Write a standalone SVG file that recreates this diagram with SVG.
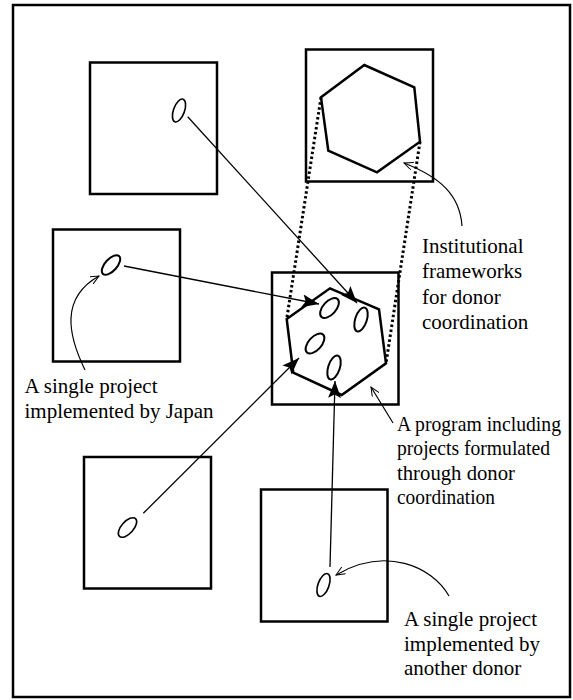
<svg xmlns="http://www.w3.org/2000/svg" width="573" height="700" viewBox="0 0 573 700">
<style>
.box{fill:none;stroke:#000;stroke-width:2.5}
.hex{fill:none;stroke:#000;stroke-width:2.5;stroke-linejoin:miter}
.ell{fill:none;stroke:#000;stroke-width:2}
.ellt{fill:none;stroke:#000;stroke-width:1.6}
.dot{fill:none;stroke:#000;stroke-width:3;stroke-dasharray:2.5 2.5}
.con{fill:none;stroke:#000;stroke-width:1.3}
.ann{fill:none;stroke:#000;stroke-width:1.2}
text{font-family:"Liberation Serif","Times New Roman",serif;font-size:21px;fill:#000}
</style>
<defs>
<marker id="big" markerUnits="userSpaceOnUse" markerWidth="20" markerHeight="14" refX="17" refY="6.5" orient="auto">
<path d="M0,0 L17,6.5 L0,13 L3.5,6.5 z" fill="#000"/>
</marker>
<marker id="small" markerUnits="userSpaceOnUse" markerWidth="12" markerHeight="10" refX="9" refY="4" orient="auto">
<path d="M0,0 L9,4 L0,8" fill="none" stroke="#000" stroke-width="1"/>
</marker>
</defs>
<rect x="13" y="5" width="557" height="692" fill="#fff" stroke="#000" stroke-width="2.5"/>

<g id="square-top-left">
<rect class="box" x="90" y="62.5" width="127" height="131.5"/>
<ellipse class="ellt" cx="179" cy="110.5" rx="5.5" ry="12" transform="rotate(20 179 110.5)"/>
</g>
<g id="square-top-right">
<rect class="box" x="306" y="49.5" width="127" height="132"/>
<polygon class="hex" points="321,97.3 364.3,65 414.3,87.3 420,141.7 377,172.3 328.3,150.7"/>
</g>
<g id="square-mid-left">
<rect class="box" x="53" y="229.5" width="127" height="132"/>
<ellipse class="ell" cx="111" cy="265" rx="12" ry="6" transform="rotate(-48 111 265)"/>
</g>
<g id="square-center">
<rect class="box" x="272" y="272.5" width="126.5" height="132"/>
<polygon class="hex" points="286.7,319 330,288.3 379,309.3 386,363.3 341.7,395 293.3,372.7"/>
<ellipse class="ell" cx="329.5" cy="308" rx="12" ry="6.5" transform="rotate(-48 329.5 308)"/>
<ellipse class="ell" cx="361" cy="319.5" rx="5.8" ry="12.5" transform="rotate(18 361 319.5)"/>
<ellipse class="ell" cx="315" cy="343.5" rx="12" ry="6.5" transform="rotate(-48 315 343.5)"/>
<ellipse class="ell" cx="334" cy="367.5" rx="5.8" ry="12.5" transform="rotate(18 334 367.5)"/>
</g>
<g id="square-bottom-left">
<rect class="box" x="84" y="457" width="127" height="131.5"/>
<ellipse class="ellt" cx="127.5" cy="527.5" rx="12" ry="6" transform="rotate(-48 127.5 527.5)"/>
</g>
<g id="square-bottom-right">
<rect class="box" x="261" y="489.5" width="126.5" height="132"/>
<ellipse class="ellt" cx="323.5" cy="585" rx="5.5" ry="12" transform="rotate(20 323.5 585)"/>
</g>

<g id="connectors">
<line class="dot" x1="321" y1="97.3" x2="286.7" y2="319"/>
<line class="dot" x1="420" y1="141.7" x2="386" y2="363.3"/>
<line class="con" x1="187.7" y1="116.7" x2="357" y2="303" marker-end="url(#big)"/>
<line class="con" x1="124" y1="266" x2="319" y2="304" marker-end="url(#big)"/>
<line class="con" x1="143.3" y1="513.3" x2="299" y2="358" marker-end="url(#big)"/>
<line class="con" x1="330" y1="567" x2="335" y2="381" marker-end="url(#big)"/>
<path class="ann" d="M462,226 C460,195 440,177 404,163" marker-end="url(#small)"/>
<path class="ann" d="M85,370 C68,335 60,298 99,276" marker-end="url(#small)"/>
<path class="ann" d="M393,423 L371,387" marker-end="url(#small)"/>
<path class="ann" d="M449,596 C432,566 385,546 336,575" marker-end="url(#small)"/>
</g>

<g id="labels">
<text x="422" y="253">Institutional</text>
<text x="422" y="278">frameworks</text>
<text x="422" y="304">for donor</text>
<text x="422" y="329">coordination</text>
<text x="24.5" y="393">A single project</text>
<text x="24.5" y="417.5">implemented by Japan</text>
<text x="397" y="430.5" textLength="164" lengthAdjust="spacingAndGlyphs">A program including</text>
<text x="397" y="455" textLength="153" lengthAdjust="spacingAndGlyphs">projects formulated</text>
<text x="397" y="479.5" textLength="118" lengthAdjust="spacingAndGlyphs">through donor</text>
<text x="397" y="504" textLength="98" lengthAdjust="spacingAndGlyphs">coordination</text>
<text x="404" y="626">A single project</text>
<text x="404" y="650.5">implemented by</text>
<text x="404" y="675">another donor</text>
</g>
</svg>
